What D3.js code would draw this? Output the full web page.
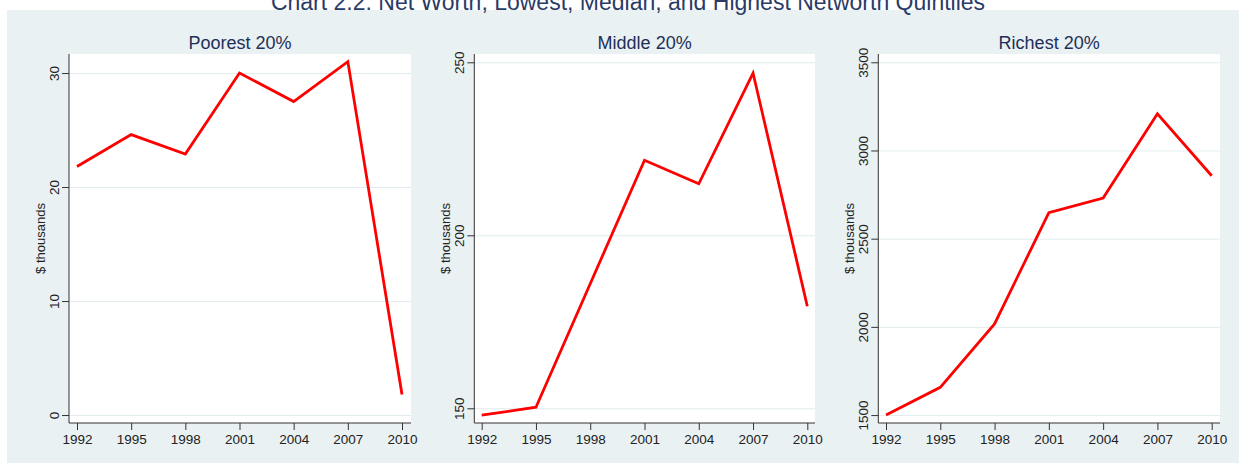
<!DOCTYPE html>
<html>
<head>
<meta charset="utf-8">
<script src="https://cdn.jsdelivr.net/npm/d3@7"></script>
<style>
  body { margin: 0; background: #ffffff; }
  svg { display: block; font-family: "Liberation Sans", Arial, sans-serif; }
  .axis path, .axis line { stroke: #333333; }
  .axis text { fill: #222222; font-size: 13.5px; }
  .grid line { stroke: #e2ecef; }
  .grid path { stroke: none; }
</style>
</head>
<body>
<div id="chart"></div>
<script>
//----------------------------DATA------------------------------//
const years = [1992, 1995, 1998, 2001, 2004, 2007, 2010];
const poorest = [21.8, 24.6, 22.9, 30.0, 27.5, 31.0, 1.8];
const middle = [148.0, 150.3, 186.0, 221.7, 214.9, 246.9, 179.5];
const richest = [1500, 1657, 2017, 2648, 2730, 3208, 2857];
const panelTitles = ["Poorest 20%", "Middle 20%", "Richest 20%"];
const poorestTicks = [0, 10, 20, 30];
const middleTicks = [150, 200, 250];
const richestTicks = [1500, 2000, 2500, 3000, 3500];
const mainTitle = "Chart 2.2: Net Worth, Lowest, Median, and Highest Networth Quintiles";
const yLabel = "$ thousands";

//-------------------------PREPARATION--------------------------//
const width = 1239;
const height = 465;

const svg = d3.select("#chart").append("svg")
    .attr("width", width)
    .attr("height", height);

// light stata-like background
svg.append("rect")
    .attr("x", 7).attr("y", 10)
    .attr("width", width - 7).attr("height", 453)
    .attr("fill", "#e9f1f3");

// title sits half outside the picture, as in the source
svg.append("text")
    .attr("x", 628).attr("y", 10)
    .attr("text-anchor", "middle")
    .style("font-size", "23px")
    .style("fill", "#2a3c66")
    .text(mainTitle);

// layout of each panel: plot area and where the years sit
const panels = [
    {values: poorest, ticks: poorestTicks, left: 69, right: 411, x0: 77, x1: 402, yDomain: [-0.7, 31.67]},
    {values: middle, ticks: middleTicks, left: 474.3, right: 815, x0: 481.7, x1: 807.3, yDomain: [145.75, 252.4]},
    {values: richest, ticks: richestTicks, left: 878.3, right: 1220, x0: 886, x1: 1211.7, yDomain: [1455, 3547]}
];
const plotTop = 54;
const plotBottom = 423;

//---------------------------DRAWING----------------------------//
panels.forEach(function(p, i) {
    const xScale = d3.scaleLinear().domain([1992, 2010]).range([p.x0, p.x1]);
    const yScale = d3.scaleLinear().domain(p.yDomain).range([plotBottom, plotTop]);

    const g = svg.append("g");

    // plot region
    g.append("rect")
        .attr("x", p.left).attr("y", plotTop)
        .attr("width", p.right - p.left).attr("height", plotBottom - plotTop)
        .attr("fill", "#ffffff");

    // gridlines
    g.append("g")
        .attr("class", "grid")
        .attr("transform", "translate(" + p.left + ",0)")
        .call(d3.axisLeft(yScale).tickValues(p.ticks)
            .tickSize(-(p.right - p.left)).tickFormat(""));

    // y axis
    const yAxis = g.append("g")
        .attr("class", "axis")
        .attr("transform", "translate(" + p.left + ",0)")
        .call(d3.axisLeft(yScale).tickValues(p.ticks).tickSize(7).tickSizeOuter(0)
            .tickFormat(d3.format("d")));
    yAxis.select(".domain").attr("d", "M0," + plotTop + "V" + plotBottom);
    yAxis.selectAll(".tick text")
        .attr("transform", "rotate(-90)")
        .attr("x", 0).attr("y", -10.5).attr("dy", 0)
        .style("text-anchor", "middle");

    // x axis
    const xAxis = g.append("g")
        .attr("class", "axis")
        .attr("transform", "translate(0," + plotBottom + ")")
        .call(d3.axisBottom(xScale).tickValues(years).tickSize(7).tickSizeOuter(0)
            .tickFormat(d3.format("d")));
    xAxis.select(".domain").attr("d", "M" + p.left + ",0H" + p.right);
    xAxis.selectAll(".tick text").attr("y", 11).attr("dy", "0.71em");

    // y label
    g.append("text")
        .attr("transform", "translate(" + (p.left - 24.5) + "," + ((plotTop + plotBottom) / 2) + ") rotate(-90)")
        .attr("text-anchor", "middle")
        .style("font-size", "13px")
        .style("fill", "#222222")
        .text(yLabel);

    // panel title
    g.append("text")
        .attr("x", (p.left + p.right) / 2).attr("y", 48.5)
        .attr("text-anchor", "middle")
        .style("font-size", "18px")
        .style("fill", "#1e2f58")
        .text(panelTitles[i]);

    // line
    const line = d3.line()
        .x(function(d, j) { return xScale(years[j]); })
        .y(function(d) { return yScale(d); });

    g.append("path")
        .datum(p.values)
        .attr("d", line)
        .attr("fill", "none")
        .attr("stroke", "#ff0000")
        .attr("stroke-width", 2.8)
        .attr("stroke-linejoin", "miter");
});
</script>
</body>
</html>
